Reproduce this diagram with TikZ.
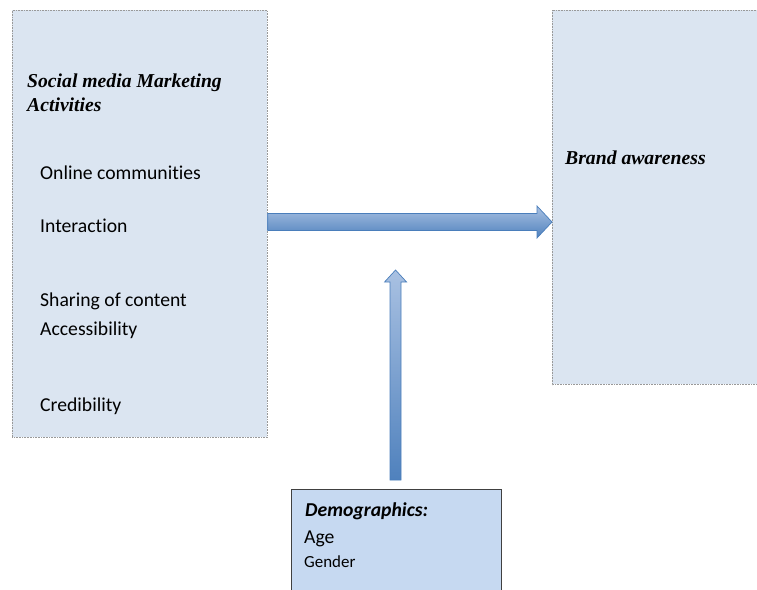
\documentclass[tikz,border=0pt]{standalone}
\usepackage{fontspec}
\setmainfont{Carlito}[Ligatures=NoCommon]
\newfontfamily\serifbi{Liberation Serif}
\usetikzlibrary{calc}

\definecolor{panelblue}{HTML}{DBE5F1}
\definecolor{demoblue}{HTML}{C6D9F1}
\definecolor{arrowedge}{HTML}{4A7EBB}
\definecolor{arrowlight}{HTML}{A9C1E2}
\definecolor{arrowdark}{HTML}{4F81BD}

\begin{document}
\begin{tikzpicture}[
    x=1bp, y=-1bp,
    dotline/.style={draw=gray!80, dash pattern=on 0.8pt off 0.8pt, line width=0.7pt},
    panel/.style={rectangle, dotline, fill=panelblue, anchor=north west, inner sep=0},
    demobox/.style={rectangle, draw=black!75, line width=1.1pt, fill=demoblue, anchor=north west, inner sep=0},
    heading/.style={font=\serifbi\bfseries\itshape\fontsize{19.75}{23.7}\selectfont, anchor=base west, inner sep=0},
    item/.style={font=\fontsize{19.75}{23.7}\selectfont, anchor=base west, inner sep=0},
    blockarrow/.style={draw=arrowedge, line width=0.7pt, top color=arrowlight, bottom color=arrowdark}
]

\path[use as bounding box, clip] (0,0) rectangle (757,590);

% Boxes
\node[panel, minimum width=255bp, minimum height=427bp] (smm) at (12,10) {};
\node[panel, draw=none, minimum width=205bp, minimum height=374bp] (brand) at (552,10) {};
\draw[dotline] (brand.north east) -- (brand.north west) -- (brand.south west) -- (brand.south east);
\node[demobox, minimum width=210bp, minimum height=160bp] (demo) at (291,489) {};

% Social media side
\node[heading] (smmtitle) at (27,88) {Social media Marketing};
\node[heading] (smmtitle2) at (27,112) {Activities};
\node[item] (online) at (40,180) {Online communities};
\node[item] (interact) at (40,232) {Interaction};
\node[item] (sharing) at (40,306) {Sharing of content};
\node[item] (access) at (40,335) {Accessibility};
\node[item] (cred) at (40,411) {Credibility};

% Brand side
\node[heading] (brandtitle) at (565,165) {Brand awareness};

% Demographics
\node[item, font=\bfseries\itshape\fontsize{19.75}{23.7}\selectfont] (demotitle) at (305,516) {Demographics:};
\node[item, font=\fontsize{19.75}{23.7}\selectfont] (age) at (304,543) {Age};
\node[item, font=\fontsize{17}{20}\selectfont] (gender) at (304,567) {Gender};

% Arrows
\coordinate (hstart) at ($(smm.north east)+(0,212)$);
\coordinate (hend) at (brand.west |- hstart);
\path[blockarrow] ($(hstart)+(0,-8.5)$) -- ($(hend)+(-15,-8.5)$) -- ($(hend)+(-15,-16)$) -- (hend)
    -- ($(hend)+(-15,16)$) -- ($(hend)+(-15,8.5)$) -- ($(hstart)+(0,8.5)$) -- cycle;

\coordinate (vstart) at ($(demo.north)+(-1,-9)$);
\coordinate (vtip) at ($(vstart)+(0,-210)$);
\path[blockarrow] ($(vstart)+(-5.5,0)$) -- ($(vtip)+(-5.5,12)$) -- ($(vtip)+(-11,12)$) -- (vtip)
    -- ($(vtip)+(11,12)$) -- ($(vtip)+(5.5,12)$) -- ($(vstart)+(5.5,0)$) -- cycle;

\end{tikzpicture}
\end{document}
